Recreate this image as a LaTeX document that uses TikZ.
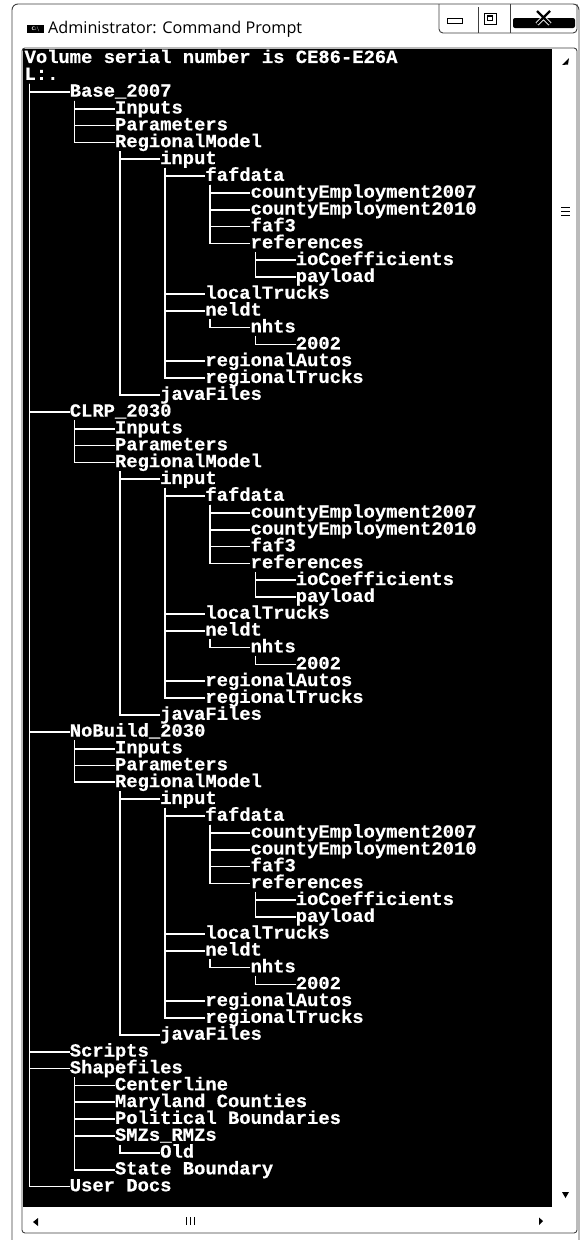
\documentclass[tikz,border=0pt]{standalone}
\usepackage{fontspec}
\newfontfamily\termfont{Liberation Mono}[FakeStretch=1.018,FakeBold=0.6]
\newfontfamily\titlefont{Open Sans}
\def\xo{24.4}\def\cw{11.3}\def\yo{58.2}\def\lh{16.84}
\newcommand\mkent[4]{\node[ent] (#1) at ({\xo+(#2)*\cw},{\yo+(#3-1)*\lh}) {#4};}
\newcommand\mklink[2]{\draw[trunk] ([xshift=5pt]#1.south west) |- (#2.west);}
\newcommand\mkblock[3]{%
\mkent{#1}{4}{#2}{#3}
\mkent{#1-inp}{8}{#2+1}{Inputs}
\mkent{#1-par}{8}{#2+2}{Parameters}
\mkent{#1-rm}{8}{#2+3}{RegionalModel}
\mkent{#1-in}{12}{#2+4}{input}
\mkent{#1-faf}{16}{#2+5}{fafdata}
\mkent{#1-ce7}{20}{#2+6}{countyEmployment2007}
\mkent{#1-ce0}{20}{#2+7}{countyEmployment2010}
\mkent{#1-f3}{20}{#2+8}{faf3}
\mkent{#1-ref}{20}{#2+9}{references}
\mkent{#1-io}{24}{#2+10}{ioCoefficients}
\mkent{#1-pay}{24}{#2+11}{payload}
\mkent{#1-lt}{16}{#2+12}{localTrucks}
\mkent{#1-nel}{16}{#2+13}{neldt}
\mkent{#1-nh}{20}{#2+14}{nhts}
\mkent{#1-y2}{24}{#2+15}{2002}
\mkent{#1-ra}{16}{#2+16}{regionalAutos}
\mkent{#1-rt}{16}{#2+17}{regionalTrucks}
\mkent{#1-jf}{12}{#2+18}{javaFiles}
\mklink{#1}{#1-inp}\mklink{#1}{#1-par}\mklink{#1}{#1-rm}
\mklink{#1-rm}{#1-in}\mklink{#1-rm}{#1-jf}
\mklink{#1-in}{#1-faf}\mklink{#1-in}{#1-lt}\mklink{#1-in}{#1-nel}\mklink{#1-in}{#1-ra}\mklink{#1-in}{#1-rt}
\mklink{#1-faf}{#1-ce7}\mklink{#1-faf}{#1-ce0}\mklink{#1-faf}{#1-f3}\mklink{#1-faf}{#1-ref}
\mklink{#1-ref}{#1-io}\mklink{#1-ref}{#1-pay}
\mklink{#1-nel}{#1-nh}\mklink{#1-nh}{#1-y2}
}
\begin{document}
\begin{tikzpicture}[x=1pt,y=-1pt,
  ent/.style={anchor=west, inner sep=0pt, text height=13.2pt, text depth=3.64pt, text=white,
    font=\termfont\bfseries\fontsize{18.5}{18.5}\selectfont},
  trunk/.style={draw=white, line width=1.7pt},
  chrome/.style={draw=black!75, line width=0.9pt},
  arr/.style={fill=black}]
\useasboundingbox (0,0) rectangle (581,1240);
\fill[white] (0,0) rectangle (581,1240);
% window frame
\draw[chrome, rounded corners=6pt] (12,1242) -- (12,4) -- (579,4) -- (579,1242);
% title
\fill[black] (27,25) rectangle (44,33);
\node[inner sep=0pt, text=white, font=\sffamily\bfseries\fontsize{5}{5}\selectfont] (ico) at (35.5,29) {C:\textbackslash};
\node[anchor=base west, inner sep=0pt, font=\titlefont\fontsize{16.2}{16.2}\selectfont] (title) at (48,33) {Administrator: Command Prompt};
% buttons
\draw[chrome, rounded corners=4pt] (439,4) -- (439,33) -- (577,33) -- (577,4);
\draw[chrome] (478,7) -- (478,33);
\draw[chrome] (510,4) -- (510,33);
\draw[black, line width=1pt] (447,18.5) rectangle (462,23.5);
\draw[black, line width=1pt] (484,13) rectangle (496,24);
\draw[black, line width=1.3pt] (487.5,16) rectangle (492.5,20.5);
\fill[black, rounded corners=2pt] (513,18) rectangle (575,28);
\draw[white, line width=4pt] (537,11) -- (550,24) (550,11) -- (537,24);
\draw[black, line width=2.2pt] (537,11) -- (550,24) (550,11) -- (537,24);
% console and scrollbars
\fill[black] (23,49) rectangle (552,1207);
\draw[chrome, rounded corners=3pt] (22,48) rectangle (577,1233);
\fill[arr] (562,65) -- (569,58) -- (568,64.5) -- cycle;
\fill[arr] (562,1192) -- (569,1192) -- (565.5,1198) -- cycle;
\fill[arr] (33,1222) -- (38,1218) -- (38,1226) -- cycle;
\fill[arr] (543,1221) -- (539,1217.5) -- (539,1225) -- cycle;
\draw[black, line width=0.8pt] (561,207) -- (570,207) (561,211) -- (570,211) (561,215) -- (570,215);
\draw[black, line width=0.8pt] (186,1217) -- (186,1225) (190,1217) -- (190,1225) (194,1217) -- (194,1225);
% text
\mkent{vol}{0}{1}{Volume serial number is CE86-E26A}
\mkent{root}{0}{2}{L:.}
\mkblock{b}{3}{Base\_2007}
\mkblock{c}{22}{CLRP\_2030}
\mkblock{n}{41}{NoBuild\_2030}
\mkent{scr}{4}{60}{Scripts}
\mkent{shp}{4}{61}{Shapefiles}
\mkent{cl}{8}{62}{Centerline}
\mkent{mc}{8}{63}{Maryland Counties}
\mkent{pb}{8}{64}{Political Boundaries}
\mkent{smz}{8}{65}{SMZs\_RMZs}
\mkent{old}{12}{66}{Old}
\mkent{sb}{8}{67}{State Boundary}
\mkent{ud}{4}{68}{User Docs}
\mklink{root}{b}\mklink{root}{c}\mklink{root}{n}\mklink{root}{scr}\mklink{root}{shp}\mklink{root}{ud}
\mklink{shp}{cl}\mklink{shp}{mc}\mklink{shp}{pb}\mklink{shp}{smz}\mklink{shp}{sb}
\mklink{smz}{old}
\end{tikzpicture}
\end{document}
